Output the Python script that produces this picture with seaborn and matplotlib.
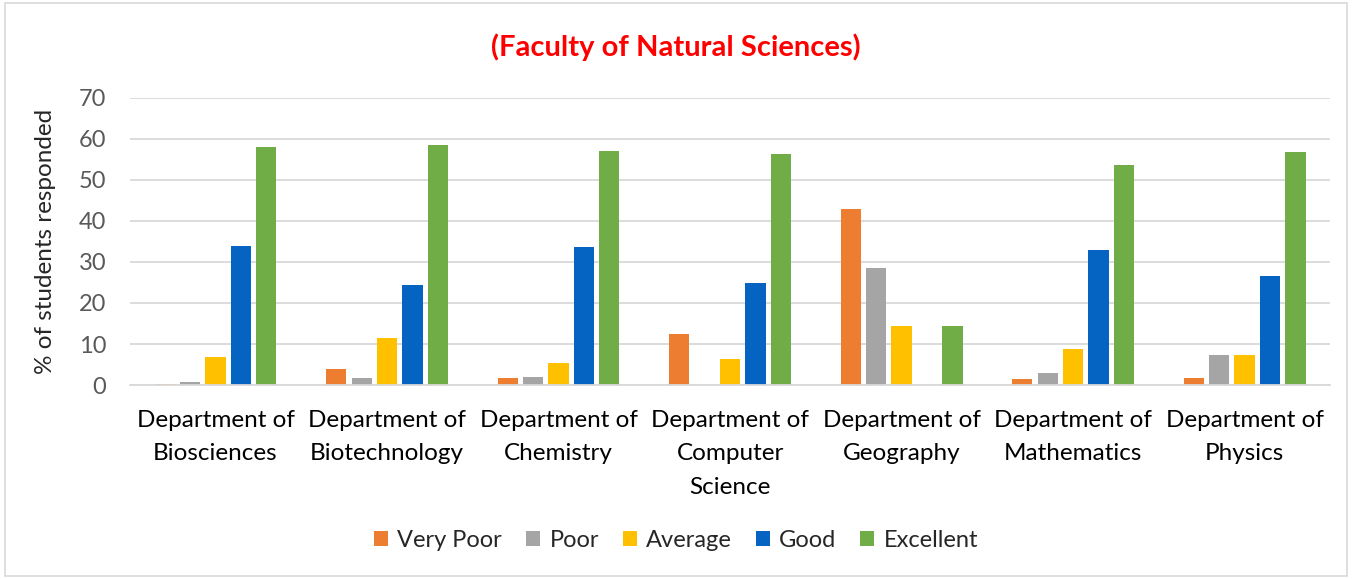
import pandas as pd
import numpy as np
import matplotlib.pyplot as plt
import seaborn as sns
from matplotlib.patches import Rectangle

departments = ["Department of\nBiosciences", "Department of\nBiotechnology", "Department of\nChemistry",
               "Department of\nComputer\nScience", "Department of\nGeography", "Department of\nMathematics",
               "Department of\nPhysics"]
ratings = ["Very Poor", "Poor", "Average", "Good", "Excellent"]

very_poor = [0.2, 3.8, 1.8, 12.5, 42.9, 1.5, 1.6]
poor = [0.8, 1.6, 1.9, 0.0, 28.6, 2.9, 7.3]
average = [6.9, 11.4, 5.4, 6.3, 14.3, 8.9, 7.3]
good = [33.8, 24.4, 33.7, 24.9, 0.0, 32.9, 26.6]
excellent = [58.0, 58.6, 57.1, 56.2, 14.3, 53.7, 56.8]

colors = ["#ED7D31", "#A5A5A5", "#FFC000", "#0563C1", "#70AD47"]

rows = []
for name, vals in zip(ratings, [very_poor, poor, average, good, excellent]):
    for d, v in zip(departments, vals):
        rows.append({"Department": d, "Rating": name, "Percent": v})
df = pd.DataFrame(rows)

sns.set_style("white")
plt.rcParams['font.family'] = ['Lato', 'DejaVu Sans']

fig = plt.figure(figsize=(13.52, 5.79), dpi=100)
ax = fig.add_axes([0.096, 0.335, 0.888, 0.496])

sns.barplot(data=df, x="Department", y="Percent", hue="Rating", hue_order=ratings,
            palette=colors, saturation=1, width=0.74, linewidth=0, ax=ax)

# thin the bars a little to leave white gaps like the original
for p in ax.patches:
    w = p.get_width()
    p.set_x(p.get_x() + w * 0.1)
    p.set_width(w * 0.8)

ax.set_ylim(0, 70)
ax.set_yticks(range(0, 71, 10))
ax.yaxis.grid(True, color="#D9D9D9", linewidth=1.3)
ax.set_axisbelow(True)
for s in ["top", "right", "left"]:
    ax.spines[s].set_visible(False)
ax.spines["bottom"].set_color("#D9D9D9")
ax.spines["bottom"].set_linewidth(1.3)
ax.tick_params(axis="both", length=0, colors="#595959")
ax.tick_params(axis="x", labelsize=17.5, labelcolor="black", pad=18)
ax.tick_params(axis="y", labelsize=17, pad=17)
for lbl in ax.get_xticklabels():
    lbl.set_linespacing(1.72)
    lbl.set_verticalalignment("top")
ax.set_xlabel("")
ax.set_ylabel("% of students responded", fontsize=17.5, labelpad=16)

fig.text(0.5, 0.919, "(Faculty of Natural Sciences)", color="red", fontsize=21,
         fontweight="bold", ha="center", va="center")

handles, labels = ax.get_legend_handles_labels()
ax.legend(handles, labels, loc="center", bbox_to_anchor=(0.5, 0.066), bbox_transform=fig.transFigure,
          ncol=5, frameon=False, fontsize=17, handlelength=0.6, handleheight=0.6,
          handletextpad=0.4, columnspacing=1.0)

fig.patches.append(Rectangle((0.004, 0.006), 0.992, 0.988, transform=fig.transFigure,
                             fill=False, edgecolor="#D9D9D9", linewidth=1.2))

plt.savefig("out.png", dpi=100)
